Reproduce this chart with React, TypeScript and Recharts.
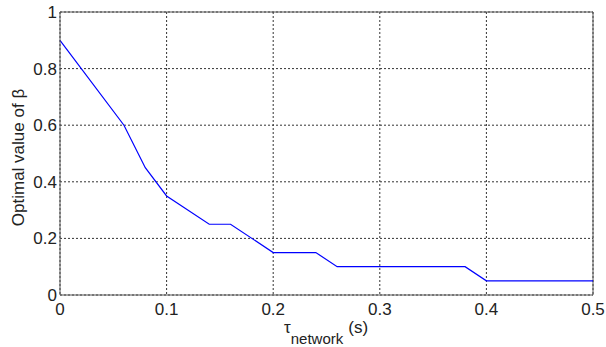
import { LineChart, Line, XAxis, YAxis, CartesianGrid, ReferenceLine } from 'recharts';

const tau = [0, 0.06, 0.08, 0.1, 0.14, 0.16, 0.2, 0.24, 0.26, 0.38, 0.4, 0.5];
const beta = [0.9, 0.6, 0.45, 0.35, 0.25, 0.25, 0.15, 0.15, 0.1, 0.1, 0.05, 0.05];
const xTicks = [0, 0.1, 0.2, 0.3, 0.4, 0.5];
const yTicks = [0, 0.2, 0.4, 0.6, 0.8, 1];

const data = tau.map((t, i) => ({ tau: t, beta: beta[i] }));

const font = 'Arial, "Liberation Sans", Helvetica, sans-serif';

function fmt(v: number): string {
  return v === 0 ? '0' : String(v);
}

type VB = { x: number; y: number; width: number; height: number };

function XLabel({ viewBox }: { viewBox?: VB }) {
  if (!viewBox) return null;
  return (
    <text x={284} y={333} textAnchor="start" fontFamily={font} fontSize={17} fill="#222">
      <tspan x={284}>τ</tspan>
      <tspan dy={11} fontSize={15}>network</tspan>
      <tspan dy={-11} dx={5}>(s)</tspan>
    </text>
  );
}

function YLabel({ viewBox }: { viewBox?: VB }) {
  if (!viewBox) return null;
  const cy = viewBox.y + viewBox.height / 2 + 4;
  return (
    <text
      x={24}
      y={cy}
      transform={`rotate(-90 24 ${cy})`}
      textAnchor="middle"
      fontFamily={font}
      fontSize={17}
      fill="#222"
    >
      Optimal value of β
    </text>
  );
}

export default function App() {
  return (
    <div style={{ position: 'absolute', left: 0, top: 0, background: '#fff' }}>
      <LineChart
        width={606}
        height={347}
        data={data}
        margin={{ top: 12, right: 13, bottom: 0, left: 0 }}
      >
        <CartesianGrid stroke="#333" strokeDasharray="2 2" strokeWidth={1} />
        <XAxis
          dataKey="tau"
          type="number"
          domain={[0, 0.5]}
          ticks={xTicks}
          tickFormatter={fmt}
          height={52}
          tickLine={false}
          tickSize={0}
          axisLine={{ stroke: '#555' }}
          tick={{ fontSize: 17, fill: '#222', fontFamily: font }}
          tickMargin={8}
          label={<XLabel />}
        />
        <YAxis
          type="number"
          domain={[0, 1]}
          ticks={yTicks}
          tickFormatter={fmt}
          width={60}
          tickLine={false}
          tickSize={0}
          axisLine={{ stroke: '#555' }}
          tick={{ fontSize: 17, fill: '#222', fontFamily: font }}
          tickMargin={3}
          label={<YLabel />}
        />
        <ReferenceLine x={0.5} stroke="#555" strokeWidth={1} />
        <ReferenceLine y={1} stroke="#555" strokeWidth={1} />
        <Line
          type="linear"
          dataKey="beta"
          stroke="#0000ff"
          strokeWidth={1.2}
          dot={false}
          isAnimationActive={false}
        />
      </LineChart>
    </div>
  );
}
